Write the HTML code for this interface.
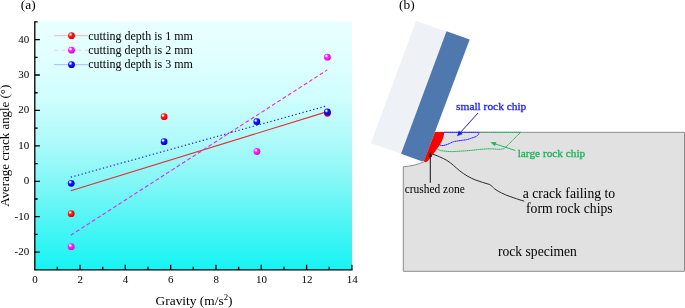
<!DOCTYPE html>
<html><head><meta charset="utf-8">
<style>
html,body{margin:0;padding:0;background:#fff;}
body{width:685px;height:308px;overflow:hidden;}
svg{display:block;}
text{font-family:"Liberation Serif",serif;fill:#000;}
svg{will-change:transform;}
</style></head><body>
<svg width="685" height="308" viewBox="0 0 685 308">
<defs>
<linearGradient id="bg" x1="0" y1="0" x2="0" y2="1"><stop offset="0.0000" stop-color="#eaffff"/><stop offset="0.0161" stop-color="#e9ffff"/><stop offset="0.1610" stop-color="#e0ffff"/><stop offset="0.3219" stop-color="#cdfdfd"/><stop offset="0.4829" stop-color="#aefafa"/><stop offset="0.6439" stop-color="#84f7f7"/><stop offset="0.8048" stop-color="#50f5f5"/><stop offset="0.9577" stop-color="#22f4f4"/><stop offset="1.0000" stop-color="#17f3f3"/></linearGradient>
<radialGradient id="rr" cx="0.38" cy="0.36" r="0.68" fx="0.33" fy="0.31"><stop offset="0" stop-color="#ffffff"/><stop offset="0.09" stop-color="#ffffff"/><stop offset="0.22" stop-color="#ff9a9a"/><stop offset="0.4" stop-color="#ff1818"/><stop offset="0.82" stop-color="#fa0000"/><stop offset="1" stop-color="#cc0000"/></radialGradient>
<radialGradient id="rm" cx="0.38" cy="0.36" r="0.68" fx="0.33" fy="0.31"><stop offset="0" stop-color="#ffffff"/><stop offset="0.09" stop-color="#ffffff"/><stop offset="0.22" stop-color="#ffb0ff"/><stop offset="0.4" stop-color="#ff20ff"/><stop offset="0.82" stop-color="#fa00fa"/><stop offset="1" stop-color="#cc00cc"/></radialGradient>
<radialGradient id="rb" cx="0.38" cy="0.36" r="0.68" fx="0.33" fy="0.31"><stop offset="0" stop-color="#ffffff"/><stop offset="0.09" stop-color="#ffffff"/><stop offset="0.22" stop-color="#a0a0ff"/><stop offset="0.4" stop-color="#1818ff"/><stop offset="0.82" stop-color="#0000f5"/><stop offset="1" stop-color="#0000b4"/></radialGradient>
</defs>
<rect width="685" height="308" fill="#fff"/>
<!-- panel a -->
<rect x="34.7" y="21.5" width="317.4" height="248.3" fill="url(#bg)"/>
<g stroke="#000" stroke-width="1.3" fill="none">
<path d="M34.80 21.24V269.83H352.55"/>
<path d="M34.70 252.12h5.2M34.70 216.70h5.2M34.70 181.28h5.2M34.70 145.86h5.2M34.70 110.44h5.2M34.70 75.02h5.2M34.70 39.60h5.2"/>
<path d="M34.70 234.41h3M34.70 198.99h3M34.70 163.57h3M34.70 128.15h3M34.70 92.73h3M34.70 57.31h3M34.70 21.89h3"/>
<path d="M80.01 269.83v-5.2M125.33 269.83v-5.2M170.64 269.83v-5.2M215.96 269.83v-5.2M261.27 269.83v-5.2M306.59 269.83v-5.2M351.90 269.83v-5.2"/>
<path d="M57.36 269.83v-3M102.67 269.83v-3M147.99 269.83v-3M193.30 269.83v-3M238.61 269.83v-3M283.93 269.83v-3M329.24 269.83v-3"/>
</g>
<g font-size="11" text-anchor="end"><text x="29.2" y="42.6">40</text><text x="29.2" y="78.0">30</text><text x="29.2" y="113.4">20</text><text x="29.2" y="148.9">10</text><text x="29.2" y="184.3">0</text><text x="29.2" y="219.7">-10</text><text x="29.2" y="255.1">-20</text></g>
<g font-size="11" text-anchor="middle"><text x="34.9" y="283.3">0</text><text x="80.2" y="283.3">2</text><text x="125.5" y="283.3">4</text><text x="170.8" y="283.3">6</text><text x="216.2" y="283.3">8</text><text x="261.6" y="283.3">10</text><text x="306.9" y="283.3">12</text><text x="352.2" y="283.3">14</text></g>
<text x="155.6" y="304.8" font-size="13.4">Gravity (m/s<tspan dy="-5.2" font-size="8.7">2</tspan><tspan dy="5.2">)</tspan></text>
<text transform="translate(9.4,206.7) rotate(-90) scale(1.085,1)" font-size="11.9">Average crack angle (°)</text>
<text x="20.8" y="9" font-size="13.4">(a)</text>
<!-- fit lines -->
<g transform="translate(0.3,0.7)">
<line x1="70.5" y1="190" x2="327" y2="110.9" stroke="#e23030" stroke-width="1.1"/>
<line x1="70.5" y1="234.5" x2="327" y2="69.2" stroke="#e628e6" stroke-width="1.1" stroke-dasharray="3.9 2.4"/>
<line x1="70.5" y1="176.5" x2="327" y2="105" stroke="#2222e2" stroke-width="1.2" stroke-dasharray="1.3 2.4"/>
<!-- points -->
<g>
<circle cx="70.9" cy="213" r="3.4" fill="url(#rr)"/><circle cx="163.8" cy="116" r="3.4" fill="url(#rr)"/><circle cx="327.1" cy="112.6" r="3.4" fill="url(#rr)"/>
<circle cx="70.9" cy="246" r="3.4" fill="url(#rm)"/><circle cx="256.6" cy="150.8" r="3.4" fill="url(#rm)"/><circle cx="327.1" cy="56.5" r="3.4" fill="url(#rm)"/>
<circle cx="70.9" cy="182.6" r="3.4" fill="url(#rb)"/><circle cx="163.8" cy="141" r="3.4" fill="url(#rb)"/><circle cx="256.5" cy="121" r="3.4" fill="url(#rb)"/><circle cx="327.1" cy="111.3" r="3.4" fill="url(#rb)"/>
</g>
</g>
<!-- legend -->
<line x1="54" y1="35.7" x2="88" y2="35.7" stroke="#f58888" stroke-width="0.6"/>
<line x1="54" y1="50.2" x2="88" y2="50.2" stroke="#f5a0f5" stroke-width="0.6" stroke-dasharray="3.8 4"/>
<line x1="54" y1="64.7" x2="88" y2="64.7" stroke="#8888f5" stroke-width="0.6"/>
<circle cx="71.5" cy="35.7" r="3.4" fill="url(#rr)"/><circle cx="71.5" cy="50.2" r="3.4" fill="url(#rm)"/><circle cx="71.5" cy="64.7" r="3.4" fill="url(#rb)"/>
<g font-size="12"><text x="88.2" y="39.6">cutting depth is 1 mm</text><text x="88.2" y="54">cutting depth is 2 mm</text><text x="88.2" y="68.4">cutting depth is 3 mm</text></g>
<!-- panel b -->
<text x="399" y="9" font-size="13.4">(b)</text>
<path d="M403.3 166.7 C410 166.4 418 164.7 424.5 161.5 L435.2 132.3 L684.5 132.3 L684.5 271.3 L403.3 271.3 L403.3 166.7 Z" fill="#e1e1e1" stroke="#8c8c8c" stroke-width="1"/>
<polygon points="416,21 446.7,31.4 401.2,153.8 370.8,143.2" fill="#eef1f6"/>
<path d="M446.5 31.3 L469.7 39.5 L424.9 158.8 Q423.9 162 421 161.1 L401 153.7 Z" fill="#4f79ae"/>
<!-- crushed zone -->
<path d="M435.2 131.9 L444.3 131.9 C444.2 134 443.6 137 442.2 140.2 C441.5 141.8 440.6 143.5 440.3 144 C439.5 145.5 438.3 147.2 437.3 148.6 L433.6 153.5 L430.4 157.8 L427.8 161 Q426.3 162.6 425 162 Q423.6 161.4 424.1 160.6 Z" fill="#ff0000"/>
<!-- small chip -->
<path d="M444.3 132.3 H479.2  C479.1 132.7 478.9 133.7 478.6 134.2 C478.3 134.7 477.9 135.1 477.3 135.6 C476.7 136.1 476.1 136.4 475.0 136.9 C473.9 137.4 472.1 137.9 470.7 138.4 C469.3 138.9 467.8 139.4 466.4 139.7 C465.0 140.0 463.6 140.1 462.2 140.3 C460.8 140.5 459.3 140.7 457.9 140.9 C456.5 141.1 454.9 141.3 453.6 141.7 C452.4 142.0 451.5 142.5 450.4 143.0 C449.3 143.5 448.2 144.1 447.1 144.5 C446.0 144.9 444.9 145.2 443.9 145.4 C442.9 145.6 441.8 145.5 441.0 145.4 C440.2 145.3 439.7 144.9 439.4 144.8" fill="none" stroke="#1414fa" stroke-width="0.95" stroke-dasharray="1.6 0.3"/>
<line x1="478" y1="113" x2="459.2" y2="133.8" stroke="#1a1af5" stroke-width="1"/>
<polygon points="457,136.2 458.9,130.4 462.6,133.9" fill="#1a1af5"/>
<text x="456.1" y="109.9" font-size="11.4" style="fill:#1a1af5;stroke:#1a1af5;stroke-width:0.3">small rock chip</text>
<!-- large chip -->
<path d="M479.2 132.3 H520.6 L505.6 147.3 C505.2 147.5 504.4 148.4 503.5 148.7 C502.6 149.0 501.9 149.2 500.5 149.3 C499.1 149.4 496.8 149.1 495.0 149.0 C493.2 148.9 491.9 148.8 490.0 148.8 C488.1 148.8 485.7 148.9 483.6 149.1 C481.5 149.2 479.4 149.5 477.2 149.7 C475.0 149.9 472.8 150.2 470.7 150.4 C468.6 150.6 466.4 150.8 464.3 150.9 C462.2 151.1 460.0 151.2 457.9 151.3 C455.8 151.4 453.4 151.6 451.4 151.6 C449.4 151.6 447.9 151.5 446.1 151.3 C444.3 151.1 442.2 150.8 440.7 150.5 C439.2 150.2 437.9 149.4 437.3 149.2" fill="none" stroke="#20b05c" stroke-width="0.95" stroke-dasharray="1.6 0.3"/>
<line x1="515.4" y1="150.5" x2="493" y2="143.2" stroke="#27b562" stroke-width="1"/>
<polygon points="490.3,142.3 496.4,141.9 495,146.2" fill="#27b562"/>
<text x="517.7" y="157.4" font-size="11.3" style="fill:#22b05c;stroke:#22b05c;stroke-width:0.3">large rock chip</text>
<!-- crack -->
<path d="M432.5 154.1 C437 155.6 442 157.6 446.8 160.4 C452 163.5 455 167 459.7 170.8 C465 175 470 177.8 475.3 179.9 C480 181.8 485 183 489.6 184.5 C491.5 185.5 493 187.5 494.8 189 C499 192 504 194.3 509.1 196.2 C514 198 519 199.6 524.2 201.2" fill="none" stroke="#222" stroke-width="0.95"/>
<line x1="430.3" y1="182.8" x2="430.3" y2="156" stroke="#111" stroke-width="1"/>
<polygon points="430.2,152 428.4,156.8 432.1,156.8" fill="#111"/>
<text x="404.7" y="192.7" font-size="11.45">crushed zone</text>
<text x="522.8" y="197.6" font-size="13.7">a crack failing to</text>
<text x="526" y="213.1" font-size="13.7">form rock chips</text>
<text x="498" y="255.9" font-size="13.6">rock specimen</text>
</svg>
</body></html>
